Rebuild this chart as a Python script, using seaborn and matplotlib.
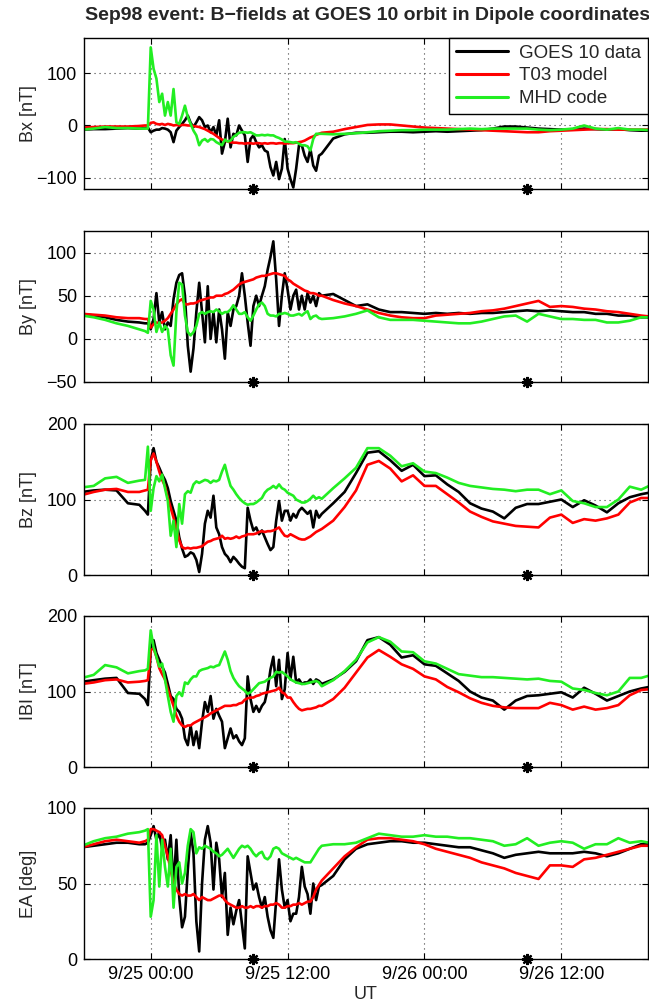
import numpy as np
import pandas as pd
import matplotlib
matplotlib.use("Agg")
import matplotlib.pyplot as plt
import seaborn as sns

# Sample times in hours relative to 9/25 00:00 UT
hours = np.concatenate([
    [-6, -5, -4, -3, -2, -1, -0.5, -0.25],
    np.arange(0, 15.01, 0.25),
    np.arange(16, 44),
    [43.7],
])

sources = ["GOES 10 data", "T03 model", "MHD code"]
colors = ["#000000", "#ff0000", "#22ee22"]

# ---- Bx [nT]
bx_goes = [-8, -7, -7, -6, -5, -6, -5, -4,
           -13, -10, -8, -8, -5, -6, -8, -13, -32, -10,
           -3, 3, 10, 19, 5, -3, 6, 16, 10, -3,
           0, -13, -3, -19, 10, -54, -32, 13, -42, -16,
           -19, 0, -10, -19, -70, -26, -19, -32, -42, -38,
           -48, -51, -80, -96, -70, -103, -83, -26, -83, -103,
           -119, -83, -38, -38, -58, -70, -45, -77, -87, -58, -54,
           -25, -17, -14, -14, -13, -12, -12, -13, -12, -11,
           -12, -11, -10, -9, -6, -2, -2, -4, -6, -7,
           -8, -8, -6, -7, -8, -7, -9, -10, -10]
bx_t03 = [-4, -3, -2, -2, -2, -1, 0, 0,
          5, 6, 3, 2, 3, 1, 3, 2, 0, 1,
          0, 1, 1, 0, 0, -1, -2, -3, -5, -7,
          -10, -13, -16, -20, -24, -27, -29, -31, -32, -33,
          -33, -34, -34, -35, -34, -34, -35, -34, -34, -35,
          -34, -35, -34, -34, -35, -34, -34, -35, -34, -34,
          -34, -33, -32, -31, -29, -26, -23, -21, -18, -16, -14,
          -12, -7, -3, 1, 2, 2, 0, -2, -4, -5,
          -6, -7, -8, -9, -10, -11, -12, -13, -13, -11,
          -10, -9, -8, -7, -7, -8, -8, -8, -8]
bx_mhd = [-8, -6, -3, -5, -5, -6, -6, -6,
          150, 109, 90, 45, 61, 19, 45, 19, 70, 6,
          3, 19, 38, 16, 3, -10, -19, -38, -29, -26,
          -31, -26, -27, -32, -35, -38, -27, -31, -29, -22,
          -18, -14, -13, -13, -14, -13, -16, -19, -19, -18,
          -19, -18, -19, -19, -22, -24, -27, -31, -31, -32,
          -33, -32, -35, -38, -38, -40, -48, -26, -16, -16, -16,
          -17, -16, -15, -13, -11, -10, -9, -9, -8, -8,
          -8, -7, -6, -7, -6, -6, -6, -6, -8, -9,
          -8, -6, 0, -6, -8, -5, -8, -8, -9]

# ---- By [nT]
by_goes = [29, 27, 25, 22, 20, 19, 18, 18,
           11, 23, 53, 19, 31, 11, 19, 15, 46, 65,
           74, 76, 50, -8, -38, -11, 31, 65, 31, -4,
           61, 0, 31, -4, 34, 11, -23, 31, 15, 34,
           38, 50, 76, 50, 19, -8, 38, 50, 38, 50,
           61, 80, 95, 113, 69, 15, 50, 76, 57, 34,
           50, 57, 34, 50, 34, 53, 42, 50, 38, 53, 50,
           52, 45, 38, 40, 34, 31, 31, 30, 29, 30,
           29, 30, 29, 30, 30, 31, 32, 33, 32, 33,
           32, 31, 31, 29, 29, 27, 27, 25, 25]
by_t03 = [29, 28, 27, 25, 24, 24, 23, 23,
          13, 17, 19, 18, 19, 21, 24, 29, 34, 40,
          44, 46, 40, 40, 41, 41, 42, 44, 45, 46,
          47, 48, 48, 50, 50, 50, 52, 53, 55, 57,
          60, 63, 65, 66, 67, 68, 69, 71, 72, 73,
          73, 74, 75, 76, 76, 75, 74, 73, 69, 67,
          64, 62, 60, 58, 56, 55, 53, 53, 52, 50, 50,
          45, 41, 38, 34, 30, 27, 25, 24, 24, 27,
          28, 29, 30, 32, 33, 35, 38, 41, 44, 37,
          38, 37, 35, 34, 32, 31, 29, 27, 26]
by_mhd = [27, 25, 22, 18, 15, 11, 9, 7,
          44, 34, 8, 19, 8, 15, 11, -19, -31, 31,
          65, 63, 27, 8, 4, 8, 15, 29, 31, 29,
          31, 32, 31, 34, 32, 29, 31, 31, 34, 39,
          34, 29, 29, 31, 25, 21, 27, 34, 40, 42,
          38, 29, 27, 27, 26, 29, 29, 30, 29, 27,
          27, 28, 29, 27, 30, 32, 23, 26, 27, 24, 23,
          24, 26, 29, 33, 25, 22, 22, 22, 21, 20,
          19, 18, 18, 20, 23, 26, 27, 20, 29, 26,
          23, 23, 22, 22, 19, 19, 21, 25, 25]

# ---- Bz [nT]
bz_goes = [110, 112, 113, 112, 95, 93, 85, 80,
           152, 168, 150, 142, 133, 126, 115, 98, 85, 72,
           50, 35, 24, 26, 30, 28, 20, 4, 28, 68,
           85, 76, 105, 63, 54, 37, 28, 24, 17, 24,
           20, 15, 11, 9, 89, 72, 59, 63, 54, 59,
           50, 41, 33, 37, 72, 98, 72, 85, 85, 72,
           81, 76, 85, 89, 85, 81, 85, 63, 85, 76, 81,
           95, 110, 135, 162, 164, 152, 138, 146, 131, 132,
           120, 110, 95, 88, 84, 75, 89, 94, 94, 97,
           100, 90, 99, 92, 83, 95, 103, 107, 109]
bz_t03 = [106, 110, 113, 114, 110, 110, 112, 113,
          152, 161, 150, 137, 126, 118, 102, 89, 76, 61,
          46, 37, 35, 36, 35, 36, 36, 37, 38, 41,
          44, 45, 47, 48, 49, 52, 48, 49, 48, 49,
          51, 49, 51, 52, 54, 54, 54, 55, 57, 58,
          57, 58, 58, 59, 61, 63, 57, 52, 51, 54,
          52, 50, 48, 47, 47, 49, 51, 54, 57, 59, 61,
          72, 90, 112, 146, 151, 141, 124, 132, 118, 118,
          107, 96, 84, 77, 71, 68, 65, 64, 63, 76,
          80, 69, 74, 72, 75, 80, 96, 102, 102]
bz_mhd = [116, 118, 128, 130, 122, 125, 126, 170,
          85, 115, 131, 124, 133, 115, 98, 52, 72, 37,
          94, 68, 107, 111, 109, 120, 124, 122, 124, 126,
          125, 122, 125, 124, 126, 137, 146, 131, 118, 113,
          107, 102, 98, 95, 93, 94, 94, 96, 99, 102,
          109, 113, 115, 118, 115, 120, 115, 113, 109, 107,
          105, 100, 98, 96, 96, 98, 101, 105, 101, 103, 101,
          115, 128, 142, 168, 168, 158, 144, 148, 137, 135,
          129, 122, 118, 116, 114, 113, 111, 113, 113, 107,
          112, 98, 95, 90, 90, 100, 117, 113, 118]

# ---- |B| [nT]
b_goes = [113, 115, 117, 118, 98, 97, 90, 82,
          155, 168, 151, 142, 133, 125, 110, 94, 90, 77,
          73, 64, 38, 29, 55, 29, 47, 25, 60, 86,
          73, 94, 64, 77, 68, 60, 25, 38, 51, 38,
          42, 34, 29, 38, 120, 90, 73, 81, 73, 81,
          86, 103, 129, 146, 107, 142, 90, 103, 151, 116,
          146, 112, 116, 110, 112, 112, 116, 110, 116, 114, 110,
          116, 126, 140, 168, 172, 162, 145, 148, 136, 134,
          124, 114, 100, 92, 88, 76, 88, 94, 95, 97,
          99, 92, 105, 97, 88, 94, 100, 104, 106]
b_t03 = [110, 112, 115, 116, 112, 113, 114, 115,
         155, 157, 146, 131, 123, 116, 103, 92, 81, 68,
         60, 55, 53, 55, 55, 58, 60, 62, 64, 66,
         68, 71, 73, 75, 77, 79, 81, 81, 81, 82,
         82, 84, 85, 89, 91, 92, 92, 94, 95, 97,
         98, 99, 100, 101, 102, 105, 99, 97, 92, 92,
         86, 81, 77, 75, 76, 77, 77, 78, 79, 81, 81,
         90, 105, 125, 145, 155, 146, 136, 130, 120, 116,
         106, 99, 91, 85, 81, 79, 78, 78, 78, 85,
         82, 76, 80, 76, 78, 82, 95, 102, 103]
b_mhd = [118, 122, 135, 132, 124, 127, 128, 130,
         181, 159, 146, 133, 137, 116, 94, 73, 60, 94,
         99, 94, 112, 110, 116, 120, 120, 127, 129, 130,
         131, 133, 132, 134, 135, 144, 153, 142, 127, 118,
         112, 107, 104, 101, 97, 99, 103, 107, 111, 112,
         113, 116, 118, 120, 126, 125, 126, 123, 120, 116,
         114, 112, 111, 110, 110, 111, 112, 113, 114, 112, 107,
         115, 127, 142, 165, 172, 166, 153, 152, 140, 137,
         130, 123, 121, 119, 119, 118, 117, 116, 117, 114,
         113, 104, 102, 98, 95, 100, 118, 118, 121]

# ---- Elevation angle EA [deg]
ea_goes = [74, 75, 76, 77, 77, 76, 76, 77,
           82, 88, 79, 84, 73, 79, 66, 82, 48, 79,
           41, 21, 28, 59, 84, 70, 25, 5, 50, 79,
           88, 77, 46, 77, 66, 41, 57, 16, 34, 23,
           32, 39, 23, 7, 68, 57, 46, 50, 41, 34,
           41, 28, 19, 14, 39, 66, 46, 34, 39, 25,
           30, 30, 41, 61, 48, 43, 30, 50, 39, 48, 49,
           55, 66, 73, 76, 77, 78, 78, 77, 77, 76,
           75, 74, 74, 72, 70, 67, 69, 70, 71, 70,
           70, 70, 71, 70, 68, 70, 73, 76, 76]
ea_t03 = [74, 76, 78, 79, 78, 77, 78, 79,
          86, 86, 85, 84, 82, 75, 68, 59, 50, 46,
          43, 42, 43, 42, 42, 43, 41, 39, 41, 40,
          39, 39, 40, 41, 42, 42, 39, 37, 36, 35,
          34, 34, 35, 34, 34, 35, 34, 35, 35, 34,
          35, 35, 36, 36, 37, 36, 34, 34, 35, 35,
          36, 36, 37, 36, 37, 38, 38, 41, 46, 49, 52,
          60, 68, 74, 79, 80, 80, 79, 78, 76, 73,
          71, 69, 67, 64, 62, 60, 57, 55, 53, 62,
          62, 61, 66, 67, 69, 71, 73, 75, 75]
ea_mhd = [75, 78, 80, 81, 83, 84, 85, 86,
          28, 39, 82, 48, 79, 61, 48, 73, 34, 61,
          64, 50, 57, 75, 86, 84, 70, 74, 73, 75,
          74, 73, 71, 70, 68, 69, 71, 73, 70, 67,
          70, 73, 75, 74, 75, 73, 70, 68, 70, 71,
          67, 66, 68, 73, 74, 73, 70, 69, 68, 67,
          66, 67, 66, 65, 64, 64, 64, 67, 70, 73, 75,
          76, 76, 77, 80, 83, 82, 81, 81, 82, 81,
          81, 80, 80, 79, 78, 75, 76, 80, 75, 77,
          78, 77, 73, 76, 76, 80, 77, 78, 77]

# Times of the reference markers along the bottom axis
marker_hours = [9.0, 33.0]

xtick_hours = [0, 12, 24, 36]
xtick_labels = ["9/25 00:00", "9/25 12:00", "9/26 00:00", "9/26 12:00"]

panels = [
    ("Bx [nT]", (bx_goes, bx_t03, bx_mhd), (-122, 168), [-100, 0, 100]),
    ("By [nT]", (by_goes, by_t03, by_mhd), (-50, 125), [-50, 0, 50, 100]),
    ("Bz [nT]", (bz_goes, bz_t03, bz_mhd), (0, 200), [0, 100, 200]),
    ("IBI [nT]", (b_goes, b_t03, b_mhd), (0, 200), [0, 100, 200]),
    ("EA [deg]", (ea_goes, ea_t03, ea_mhd), (0, 100), [0, 50, 100]),
]

sns.set_theme(style="white")
plt.rcParams["font.family"] = ["Liberation Sans", "DejaVu Sans"]
plt.rcParams["axes.unicode_minus"] = True

W, H = 649, 1007
fig = plt.figure(figsize=(W / 100, H / 100), dpi=100)
fig.patch.set_facecolor("white")

left_px, right_px = 84, 648
tops_px = [38, 231, 424, 616, 808]
height_px = 151
palette = dict(zip(sources, colors))

for i, (ylabel, series, ylim, yticks) in enumerate(panels):
    top = tops_px[i]
    ax = fig.add_axes([left_px / W, 1 - (top + height_px) / H,
                       (right_px - left_px) / W, height_px / H])
    df = pd.DataFrame({
        "UT": np.tile(hours, len(sources)),
        "value": np.concatenate([np.asarray(s, dtype=float) for s in series]),
        "source": np.repeat(sources, len(hours)),
    })
    sns.lineplot(data=df, x="UT", y="value", hue="source", hue_order=sources,
                 palette=palette, estimator=None, sort=False, linewidth=1.9,
                 ax=ax, legend=(i == 0))
    ax.plot(marker_hours, [ylim[0]] * len(marker_hours), linestyle="none",
            marker=(8, 2, 0), markersize=8, markeredgewidth=1.6,
            color="black", clip_on=False, zorder=5)

    ax.set_xlim(-5.85, 43.6)
    ax.set_ylim(*ylim)
    ax.set_yticks(yticks)
    ax.set_xticks(xtick_hours)
    ax.grid(True, linestyle=(0, (1, 3.5)), color="0.25", linewidth=0.8)
    ax.tick_params(direction="in", length=4, width=0.8, top=True, right=True,
                   bottom=True, left=True, labelsize=13, pad=5, colors="black")
    for sp in ax.spines.values():
        sp.set_color("black")
        sp.set_linewidth(1.0)
    ax.set_ylabel(ylabel, fontsize=13)
    ax.yaxis.set_label_coords(-0.083, 0.5)
    if i == len(panels) - 1:
        ax.set_xticklabels(xtick_labels)
        ax.set_xlabel("UT", fontsize=13, labelpad=2)
    else:
        ax.set_xticklabels([])
        ax.set_xlabel("")
    if i == 0:
        leg = ax.legend(loc="upper right", frameon=True, fancybox=False,
                        edgecolor="black", framealpha=1, borderaxespad=0,
                        handlelength=2.8, fontsize=13.5, labelspacing=0.3,
                        borderpad=0.35, handletextpad=0.6, title=None)
        leg.get_frame().set_linewidth(1.0)
        for ln in leg.get_lines():
            ln.set_linewidth(2.2)

fig.text(0.566, 1 - 15 / H,
         "Sep98 event: B\u2212fields at GOES 10 orbit in Dipole coordinates",
         ha="center", va="center", fontsize=14, fontweight="bold")

fig.savefig("out.png", dpi=100, facecolor="white")
